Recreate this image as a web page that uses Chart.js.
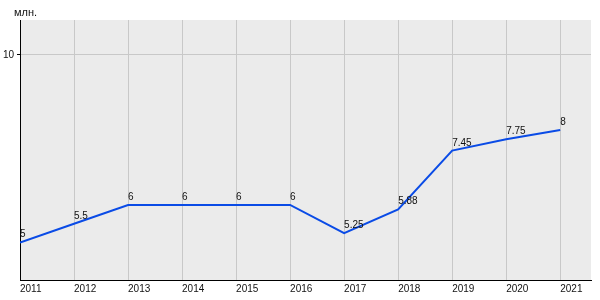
<!DOCTYPE html>
<html>
<head>
<meta charset="utf-8">
<script src="https://cdn.jsdelivr.net/npm/chart.js@4"></script>
<style>
  html, body { margin: 0; padding: 0; background: #fff; }
  #wrap { width: 600px; height: 300px; position: relative; }
</style>
</head>
<body>
<div id="wrap"><canvas id="chart"></canvas></div>
<script>
// ── DATA ──
const YEARS  = [2011, 2012, 2013, 2014, 2015, 2016, 2017, 2018, 2019, 2020, 2021];
const VALUES = [5, 5.5, 6, 6, 6, 6, 5.25, 5.88, 7.45, 7.75, 8];
const Y_TICKS = [10];
const UNIT = 'млн.';

const FONT = 'Liberation Sans, Arial, sans-serif';

// ── PLOT BACKGROUND + LABELS ──
const extras = {
  id: 'extras',
  beforeDraw(chart) {
    const { ctx, chartArea: a } = chart;
    ctx.save();
    ctx.fillStyle = '#ebebeb';
    ctx.fillRect(a.left, a.top, a.right - a.left, a.bottom - a.top);
    ctx.restore();
  },
  afterDatasetsDraw(chart) {
    const { ctx, chartArea: a } = chart;
    const meta = chart.getDatasetMeta(0);
    ctx.save();
    ctx.font = '10px ' + FONT;
    ctx.fillStyle = '#111';
    ctx.textAlign = 'left';
    ctx.textBaseline = 'alphabetic';
    meta.data.forEach((pt, i) => {
      ctx.fillText(String(VALUES[i]), pt.x, pt.y - 5);
    });
    ctx.font = '11px ' + FONT;
    ctx.textBaseline = 'middle';
    ctx.fillText(UNIT, a.left - 6, a.top - 7);
    ctx.restore();
  }
};

new Chart(document.getElementById('chart'), {
  type: 'line',
  data: {
    datasets: [{
      data: YEARS.map((y, i) => ({ x: y, y: VALUES[i] })),
      borderColor: '#0a4be6',
      borderWidth: 2,
      pointRadius: 0,
      tension: 0,
      fill: false,
    }]
  },
  options: {
    responsive: true, maintainAspectRatio: false, animation: false,
    layout: { padding: { top: 20, right: 9, left: 0, bottom: 0 } },
    plugins: { legend: { display: false }, tooltip: { enabled: false } },
    scales: {
      x: {
        type: 'linear',
        min: 2011, max: 2021.57,
        afterBuildTicks: s => { s.ticks = YEARS.map(v => ({ value: v })); },
        afterFit: s => { s.height = 20; },
        grid: { color: '#c8c8c8', drawTicks: false },
        border: { color: '#000', width: 1 },
        ticks: {
          align: 'start', padding: 3, color: '#111',
          font: { family: FONT, size: 10 },
          callback: v => String(v),
        },
      },
      y: {
        min: 4, max: 10.93,
        afterBuildTicks: s => { s.ticks = Y_TICKS.map(v => ({ value: v })); },
        afterFit: s => { s.width = 20; },
        grid: { color: '#c8c8c8', tickColor: '#000', tickLength: 3 },
        border: { color: '#000', width: 1 },
        ticks: {
          padding: 3, color: '#111',
          font: { family: FONT, size: 10 },
          callback: v => String(v),
        },
      }
    }
  },
  plugins: [extras]
});
</script>
</body>
</html>
